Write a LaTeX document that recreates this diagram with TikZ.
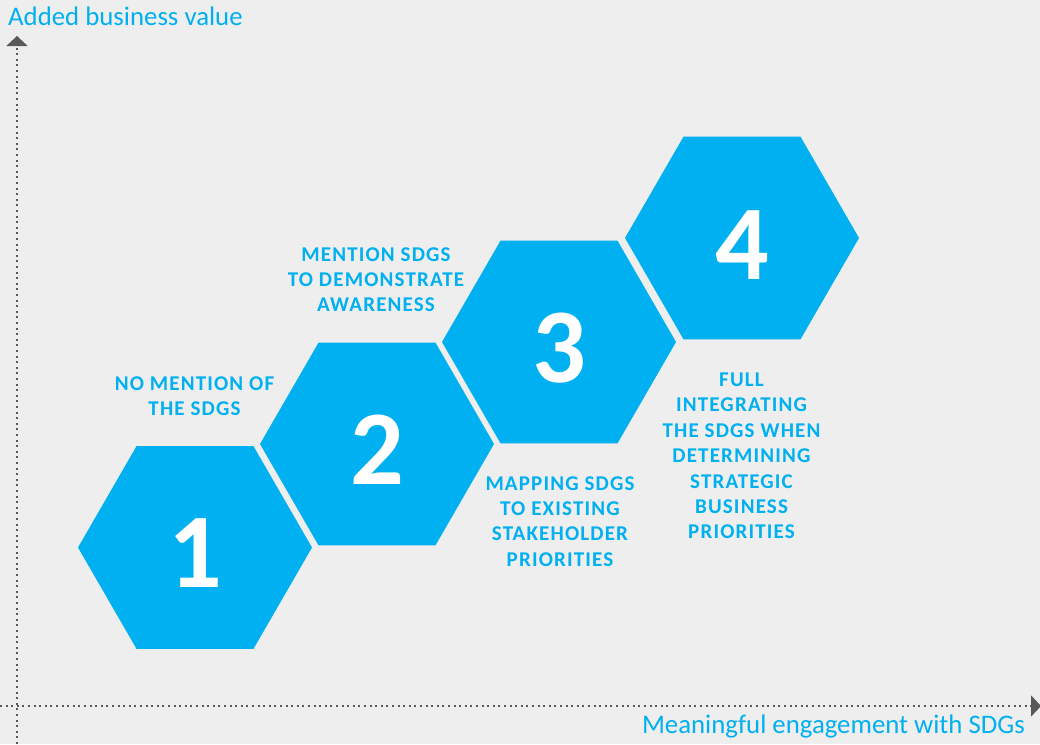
\documentclass[tikz,border=0pt]{standalone}
\usepackage{fontspec}
\setmainfont{Carlito}
\newfontfamily\lblfont[LetterSpace=5.5]{Carlito}
\usetikzlibrary{shapes.geometric,arrows.meta}
\definecolor{sdgblue}{HTML}{00B0F0}
\definecolor{bggray}{HTML}{EEEEEE}
\definecolor{axisgray}{HTML}{595959}
\begin{document}
\begin{tikzpicture}[x=1pt,y=-1pt,
 hexa/.style={regular polygon, regular polygon sides=6, minimum size=234pt, inner sep=0pt, outer sep=0pt, fill=sdgblue},
 digit/.style={text=white, font=\fontsize{106}{106}\selectfont\bfseries, anchor=base, inner sep=0pt},
 lbl/.style={text=sdgblue, font=\lblfont\bfseries\fontsize{21}{25.4}\selectfont, align=center, inner sep=0pt},
 axisline/.style={axisgray, line width=2pt, dash pattern=on 2pt off 3.6pt, -{Triangle[width=21pt,length=10pt]}},
 axislbl/.style={text=sdgblue, font=\fontsize{26.8}{30}\selectfont, inner sep=0pt}]
\fill[bggray] (0,0) rectangle (1040,744);
\useasboundingbox (0,0) rectangle (1040,744);
% axes
\coordinate (yb) at (17,744);
\coordinate (yt) at (17,36);
\coordinate (xl) at (0,706);
\coordinate (xr) at (1041,706);
\draw[axisline] (yb) -- (yt);
\draw[axisline] (xl) -- (xr);
\node[axislbl, anchor=base west] (ylab) at (8,25) {Added business value};
\node[axislbl, anchor=base east] (xlab) at (1025,733) {Meaningful engagement with SDGs};
% hexagons
\node[hexa] (h1) at (195,547.5) {};
\node[hexa] (h2) at (377,444) {};
\node[hexa] (h3) at (559,342) {};
\node[hexa] (h4) at (742,238) {};
\node[digit] (d1) at (195,587.5) {1};
\node[digit] (d2) at (377,484) {2};
\node[digit] (d3) at (559,382.5) {3};
\node[digit] (d4) at (742,279) {4};
% labels
\node[lbl] (l1) at (194.5,396) {NO MENTION OF\\THE SDGS};
\node[lbl] (l2) at (376,279.7) {MENTION SDGS\\TO DEMONSTRATE\\AWARENESS};
\node[lbl] (l3) at (560,521.3) {MAPPING SDGS\\TO EXISTING\\STAKEHOLDER\\PRIORITIES};
\node[lbl] (l4) at (741.5,456) {FULL\\INTEGRATING\\THE SDGS WHEN\\DETERMINING\\STRATEGIC\\BUSINESS\\PRIORITIES};
\end{tikzpicture}
\end{document}
